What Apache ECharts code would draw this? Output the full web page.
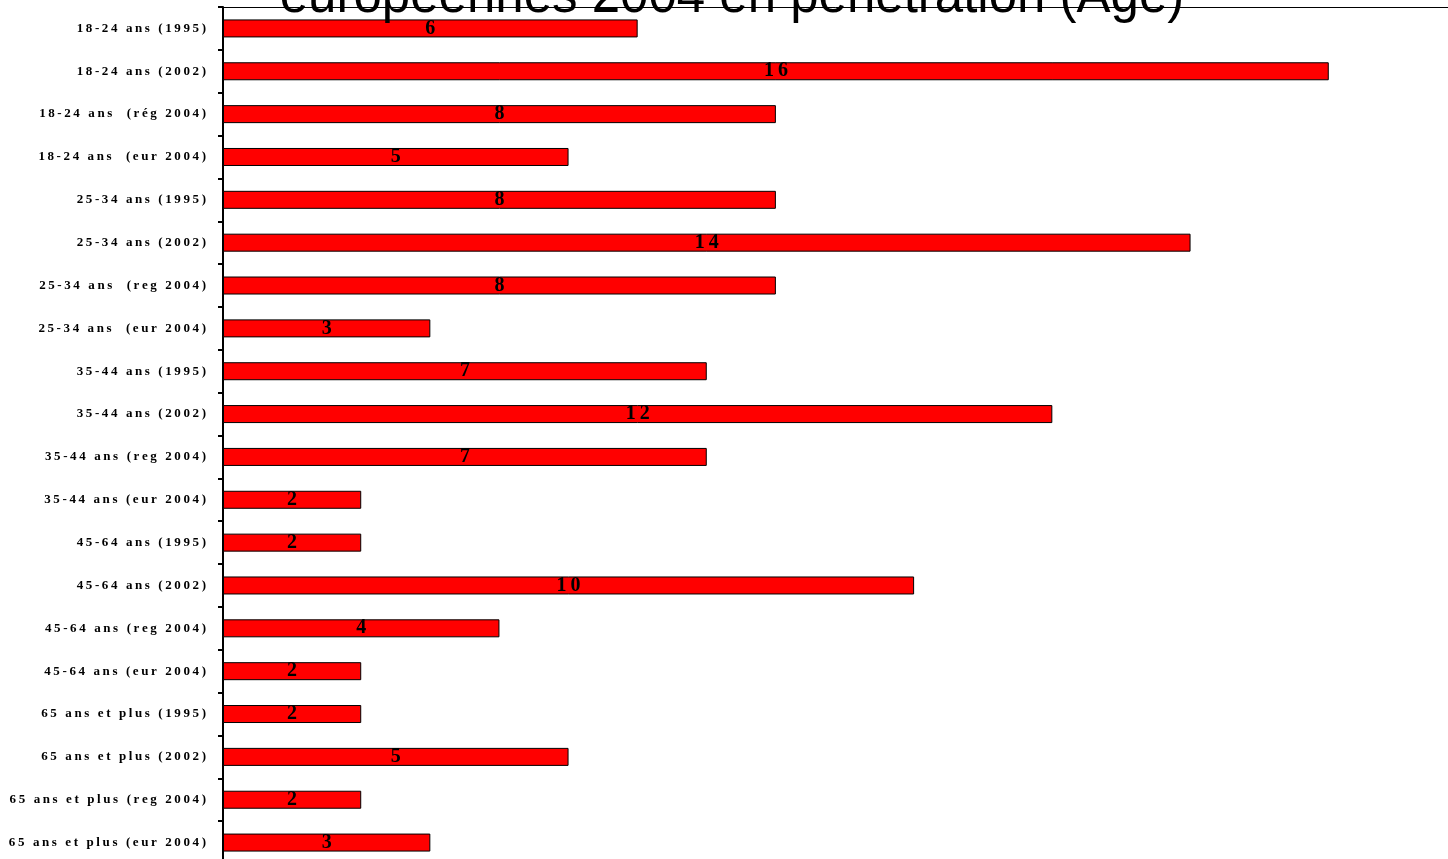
<!DOCTYPE html>
<html lang="fr">
<head>
  <meta charset="UTF-8">
  <title>Européennes 2004 en pénétration (Age)</title>
  <script src="https://cdn.jsdelivr.net/npm/echarts@6/dist/echarts.min.js"></script>
  <style>
    html, body { margin: 0; padding: 0; background: #fff; }
    #chart { width: 1448px; height: 859px; }
  </style>
</head>
<body>
  <div id="chart"></div>
  <script>
    // categories, top to bottom
    const categories = [
      '18-24 ans (1995)', '18-24 ans (2002)', '18-24 ans  (rég 2004)', '18-24 ans  (eur 2004)',
      '25-34 ans (1995)', '25-34 ans (2002)', '25-34 ans  (reg 2004)', '25-34 ans  (eur 2004)',
      '35-44 ans (1995)', '35-44 ans (2002)', '35-44 ans (reg 2004)', '35-44 ans (eur 2004)',
      '45-64 ans (1995)', '45-64 ans (2002)', '45-64 ans (reg 2004)', '45-64 ans (eur 2004)',
      '65 ans et plus (1995)', '65 ans et plus (2002)', '65 ans et plus (reg 2004)', '65 ans et plus (eur 2004)'
    ];
    const values = [6, 16, 8, 5, 8, 14, 8, 3, 7, 12, 7, 2, 2, 10, 4, 2, 2, 5, 2, 3];
    const titleText = 'européennes 2004 en pénétration (Age)';

    // spread letters a little, like the original labels
    function spaced(s, gap) {
      return String(s).split('').join(gap);
    }

    var chart = echarts.init(document.getElementById('chart'));

    const option = {
      animation: false,
      graphic: [{
        type: 'text',
        z: 100,
        style: {
          text: titleText,
          x: 732,
          y: 23,
          align: 'center',
          verticalAlign: 'bottom',
          font: '51px "Liberation Sans", Arial, sans-serif',
          fill: '#000'
        }
      }],
      grid: {
        left: 223,
        top: 7,
        width: 1244,
        height: 857,
        outerBoundsMode: 'none',
        containLabel: false
      },
      xAxis: {
        type: 'value',
        position: 'top',
        min: 0,
        max: 18,
        axisLine: { show: true, lineStyle: { color: '#000', width: 1 } },
        axisTick: { show: false },
        axisLabel: { show: false },
        splitLine: { show: false }
      },
      yAxis: {
        type: 'category',
        inverse: true,
        data: categories,
        axisLine: { show: true, lineStyle: { color: '#000', width: 2 } },
        axisTick: { show: true, inside: false, length: 5, lineStyle: { color: '#000', width: 2 } },
        axisLabel: {
          margin: 17,
          color: '#000',
          fontFamily: '"Liberation Serif", "Times New Roman", serif',
          fontWeight: 'bold',
          fontSize: 13,
          formatter: v => spaced(v, '\u2009')
        }
      },
      series: [{
        type: 'bar',
        data: values,
        barWidth: 18,
        itemStyle: { color: '#ff0000', borderColor: '#000', borderWidth: 1 },
        label: {
          show: true,
          position: 'inside',
          color: '#000',
          fontFamily: '"Liberation Serif", "Times New Roman", serif',
          fontWeight: 'bold',
          fontSize: 20,
          formatter: p => spaced(p.value, '\u2009')
        }
      }]
    };

    chart.setOption(option);
  </script>
</body>
</html>
